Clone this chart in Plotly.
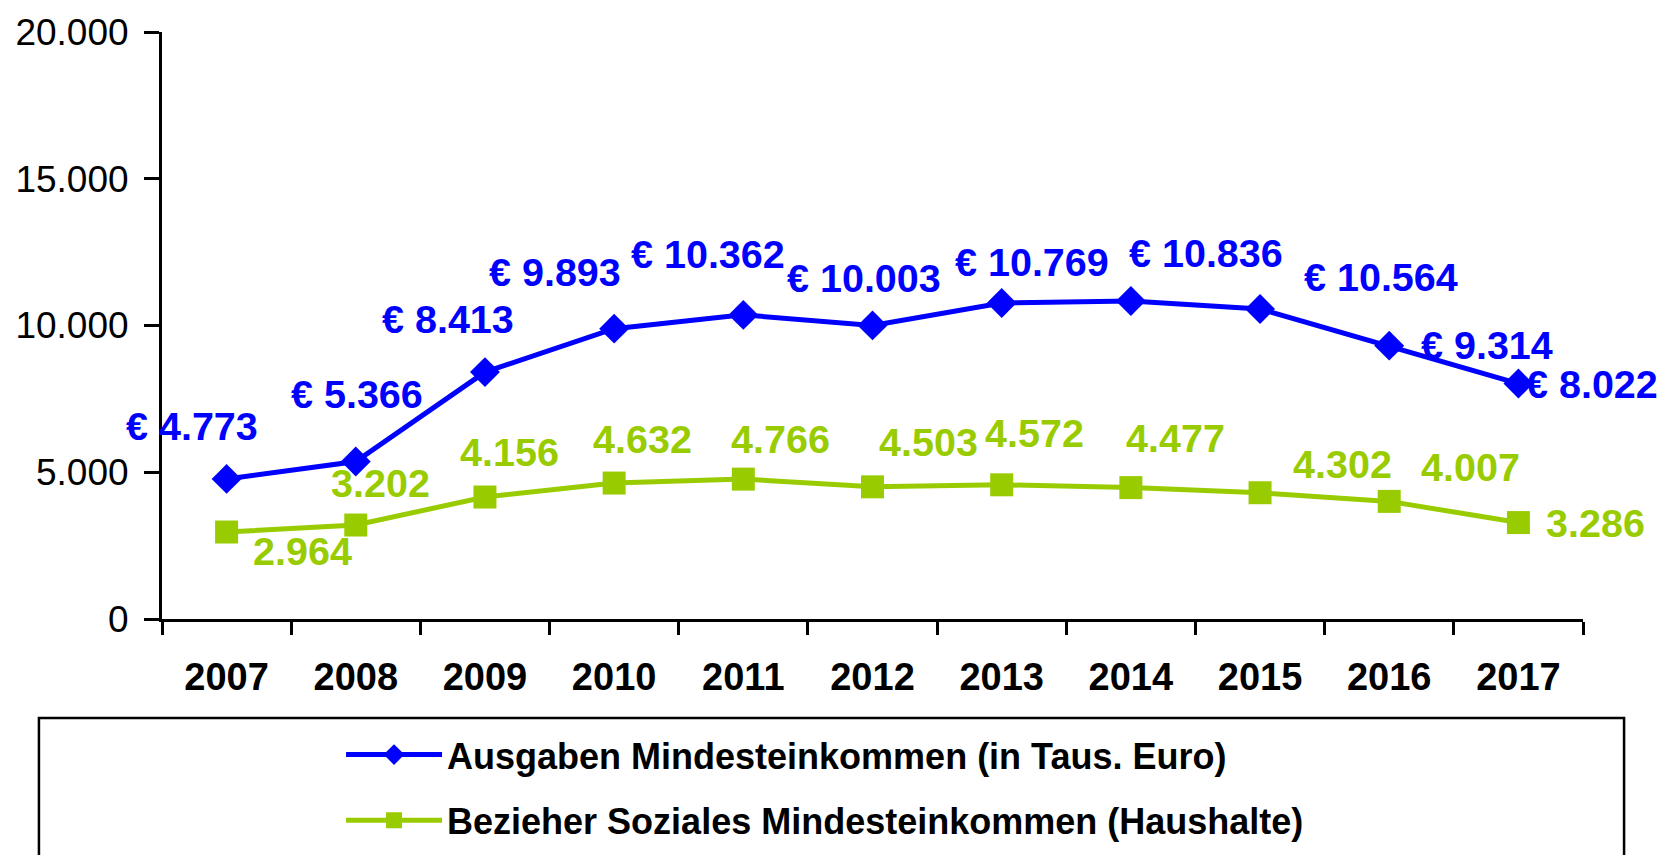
import plotly.graph_objects as go

years = ["2007", "2008", "2009", "2010", "2011", "2012", "2013", "2014", "2015", "2016", "2017"]
ausgaben = [4773, 5366, 8413, 9893, 10362, 10003, 10769, 10836, 10564, 9314, 8022]
bezieher = [2964, 3202, 4156, 4632, 4766, 4503, 4572, 4477, 4302, 4007, 3286]

name_a = "Ausgaben Mindesteinkommen (in Taus. Euro)"
name_b = "Bezieher Soziales Mindesteinkommen (Haushalte)"

BLUE = "#0000FF"
GREEN = "#99CC00"
FONT = "Liberation Sans, Arial, sans-serif"

# label offsets (pixels) relative to each point
a_dx = [-35, 1, -37, -59, -35, -9, 30, 75, 121, 98, 74]
a_dy = [53, 68, 53, 57, 61, 47, 41, 48, 32, 1, 0]
b_dx = [76, 25, 25, 28, 37, 56, 33, 45, 82, 81, 77]
b_dy = [-19, 42, 45, 44, 40, 45, 52, 50, 29, 34, 0]


def fmt(v):
    return f"{v:,}".replace(",", ".")


fig = go.Figure()
fig.add_trace(go.Scatter(
    x=years, y=ausgaben, name=name_a, mode="lines+markers",
    line=dict(color=BLUE, width=5),
    marker=dict(symbol="diamond", size=23, color=BLUE),
    legendgroup="a",
))
fig.add_trace(go.Scatter(
    x=years, y=bezieher, name=name_b, mode="lines+markers",
    line=dict(color=GREEN, width=5),
    marker=dict(symbol="square", size=23, color=GREEN),
    legendgroup="b",
))

annotations = []
for i, v in enumerate(ausgaben):
    annotations.append(dict(
        x=i, y=v, xref="x", yref="y", text="€ " + fmt(v), showarrow=False,
        xshift=a_dx[i], yshift=a_dy[i],
        font=dict(family=FONT, size=39.5, color=BLUE, weight="bold"),
    ))
for i, v in enumerate(bezieher):
    annotations.append(dict(
        x=i, y=v, xref="x", yref="y", text=fmt(v), showarrow=False,
        xshift=b_dx[i], yshift=b_dy[i],
        font=dict(family=FONT, size=39.5, color=GREEN, weight="bold"),
    ))

fig.update_layout(
    width=1668, height=855,
    margin=dict(l=154, r=93, t=24, b=244, autoexpand=False),
    plot_bgcolor="white", paper_bgcolor="white",
    font=dict(family=FONT, color="black"),
    annotations=annotations,
    showlegend=True,
    legend=dict(
        x=0.126, xanchor="left", y=-0.18, yanchor="top",
        font=dict(family=FONT, size=36, color="black", weight="bold"),
        bgcolor="rgba(0,0,0,0)", borderwidth=0,
        traceorder="grouped", tracegroupgap=16,
        itemwidth=96,
    ),
    shapes=[dict(
        type="rect", xref="paper", yref="paper",
        x0=-0.0866, x1=1.0289, y0=-0.1687, y1=-0.45,
        line=dict(color="black", width=2.5), fillcolor="rgba(0,0,0,0)",
        layer="below",
    )],
)

fig.update_xaxes(
    type="category", range=[-0.5, len(years) - 0.5], autorange=False,
    showgrid=False, zeroline=False,
    showline=True, linecolor="black", linewidth=3,
    ticks="outside", tickson="boundaries", ticklen=13, tickwidth=2.5, tickcolor="black",
    tickfont=dict(family=FONT, size=38, color="black", weight="bold"),
    tickangle=0,
    ticklabelstandoff=22,
)
fig.update_yaxes(
    range=[0, 20000], autorange=False, tickvals=[0, 5000, 10000, 15000, 20000],
    ticktext=["0", "5.000", "10.000", "15.000", "20.000"],
    showgrid=False, zeroline=False,
    showline=True, linecolor="black", linewidth=3,
    ticks="outside", ticklen=15, tickwidth=2.5, tickcolor="black",
    tickfont=dict(family=FONT, size=37, color="black"),
    ticklabelstandoff=8,
)

fig.write_html("out.html")
